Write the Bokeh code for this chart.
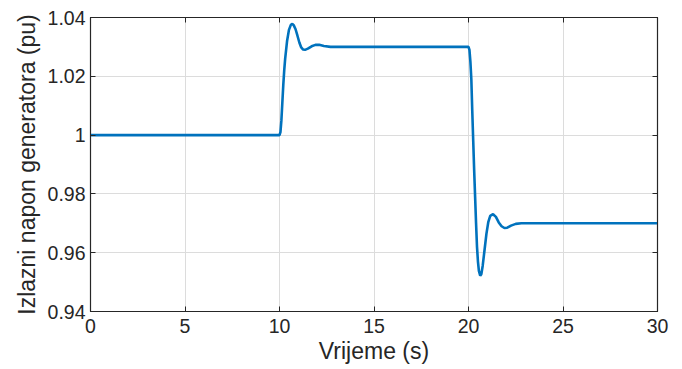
from bokeh.plotting import figure
from bokeh.models import LinearAxis, FixedTicker, Range1d
from bokeh.embed import file_html
from bokeh.resources import INLINE

# --- data ---
time_s = [0.0, 10.0, 10.05, 10.1, 10.15, 10.2, 10.25, 10.3, 10.4, 10.5, 10.6, 10.68,
          10.75, 10.85, 10.95, 11.05, 11.15, 11.25, 11.35, 11.5, 11.7, 11.9, 12.1,
          12.35, 12.7, 13.2, 20.0, 20.05, 20.1, 20.15, 20.2, 20.25, 20.3, 20.35,
          20.4, 20.45, 20.5, 20.55, 20.62, 20.68, 20.75, 20.85, 20.95, 21.05, 21.15,
          21.3, 21.45, 21.6, 21.75, 21.9, 22.05, 22.25, 22.5, 22.8, 23.3, 30.0]
voltage_pu = [1.0, 1.0, 1.001, 1.005, 1.011, 1.017, 1.022, 1.026, 1.032, 1.0358, 1.0375, 1.0378,
              1.0374, 1.036, 1.0338, 1.0315, 1.0298, 1.0291, 1.029, 1.0294, 1.0302, 1.0307, 1.0307,
              1.0303, 1.030, 1.030, 1.030, 1.029, 1.025, 1.019, 1.008, 0.998, 0.988, 0.979,
              0.970, 0.962, 0.957, 0.9538, 0.9522, 0.9527, 0.9555, 0.961, 0.9665, 0.9705, 0.9725,
              0.9731, 0.9722, 0.9703, 0.969, 0.9684, 0.9685, 0.9692, 0.9698, 0.970, 0.970, 0.970]

x_ticks = [0, 5, 10, 15, 20, 25, 30]
y_ticks = [0.94, 0.96, 0.98, 1.0, 1.02, 1.04]
y_tick_labels = ["0.94", "0.96", "0.98", "1", "1.02", "1.04"]
x_label = "Vrijeme (s)"
y_label = "Izlazni napon generatora (pu)"

FONT = "Liberation Sans"
AX = "#262626"

p = figure(width=682, height=369, output_backend="svg", toolbar_location=None,
           x_range=Range1d(0, 30), y_range=Range1d(0.94, 1.04),
           min_border_left=90, min_border_right=25, min_border_top=17, min_border_bottom=58)
p.background_fill_color = "white"
p.border_fill_color = "white"
p.outline_line_color = AX
p.outline_line_width = 1.2

p.line(time_s, voltage_pu, line_color="#0072BD", line_width=2.6)

for ax in (p.xaxis[0], p.yaxis[0]):
    ax.major_tick_in = 5
    ax.major_tick_out = 0
    ax.minor_tick_in = 0
    ax.minor_tick_out = 0
    ax.axis_line_color = AX
    ax.major_tick_line_color = AX
    ax.major_label_text_font = FONT
    ax.major_label_text_font_size = "19.5px"
    ax.major_label_text_color = AX
    ax.axis_label_text_font = FONT
    ax.axis_label_text_font_size = "23px"
    ax.axis_label_text_font_style = "normal"
    ax.axis_label_text_color = AX

p.xaxis[0].ticker = FixedTicker(ticks=x_ticks)
p.yaxis[0].ticker = FixedTicker(ticks=y_ticks)
p.yaxis[0].major_label_overrides = dict(zip(y_ticks, y_tick_labels))
p.xaxis[0].axis_label = x_label
p.yaxis[0].axis_label = y_label
p.xaxis[0].major_label_standoff = 7
p.yaxis[0].major_label_standoff = 5
p.xaxis[0].axis_label_standoff = 2
p.yaxis[0].axis_label_standoff = 5

# mirrored tick marks (box style)
top = LinearAxis(ticker=FixedTicker(ticks=x_ticks), major_tick_in=5, major_tick_out=0,
                 minor_tick_in=0, minor_tick_out=0, major_label_text_font_size="0px",
                 axis_line_color=AX, major_tick_line_color=AX, major_label_standoff=0)
right = LinearAxis(ticker=FixedTicker(ticks=y_ticks), major_tick_in=5, major_tick_out=0,
                   minor_tick_in=0, minor_tick_out=0, major_label_text_font_size="0px",
                   axis_line_color=AX, major_tick_line_color=AX, major_label_standoff=0)
top.major_label_text_alpha = 0
right.major_label_text_alpha = 0
p.add_layout(top, "above")
p.add_layout(right, "right")

p.xgrid.ticker = FixedTicker(ticks=x_ticks)
p.ygrid.ticker = FixedTicker(ticks=y_ticks)
for g in (p.xgrid[0], p.ygrid[0]):
    g.grid_line_color = "#dcdcdc"
    g.grid_line_width = 1

open("out.html", "w").write(file_html(p, INLINE))
